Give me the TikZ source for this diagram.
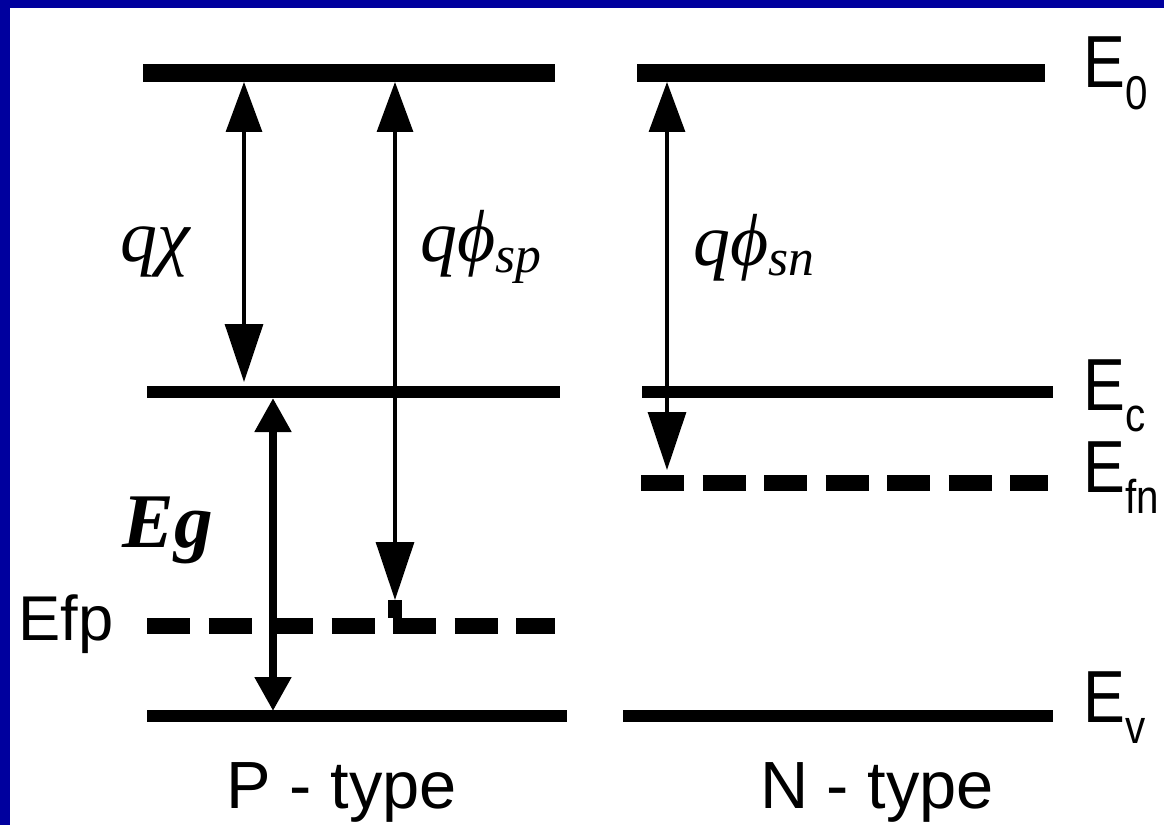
\documentclass[tikz,border=0pt]{standalone}
\usepackage{fontspec}
\setmainfont{Liberation Serif}
\newfontfamily\lvlsans{Liberation Sans}
\newfontfamily\lvlnarrow[FakeStretch=0.85]{Liberation Sans}
\usetikzlibrary{arrows.meta}
\definecolor{slideblue}{RGB}{0,0,158}
\newcommand{\lvlname}[1]{E\raisebox{-6pt}{\fontsize{13.5}{14}\selectfont #1}}

\begin{document}
\begin{tikzpicture}
  \tikzset{toplvl/.style={line width=5.3pt},
    bandlvl/.style={line width=3.4pt},
    fermilvl/.style={line width=4.6pt,dash pattern=on 4.3mm off 1.85mm},
    thinarr/.style={line width=0.9pt,{Triangle[length=5mm,width=3.6mm]}-{Triangle[length=5.8mm,width=3.8mm]}},
    gaparr/.style={line width=2.3pt,{Triangle[length=3.4mm,width=3.5mm]}-{Triangle[length=3.4mm,width=3.5mm]}},
    lbl/.style={font=\lvlnarrow\fontsize{21}{25}\selectfont,inner sep=0pt,anchor=base west},
    sym/.style={font=\itshape\fontsize{21}{25}\selectfont,inner sep=0pt,anchor=base west}}
  \useasboundingbox (0,0) rectangle (11.64,8.25);
  \fill[slideblue] (0,0) rectangle (11.64,8.25);
  \fill[white] (0.10,0) rectangle (11.64,8.17);
  % energy levels, P side and N side
  \draw[toplvl] (1.43,7.52) -- (5.55,7.52);
  \draw[toplvl] (6.37,7.52) -- (10.45,7.52);
  \draw[bandlvl] (1.47,4.33) -- (5.60,4.33);
  \draw[bandlvl] (6.42,4.33) -- (10.53,4.33);
  \draw[fermilvl] (6.41,3.42) -- (10.48,3.42);
  \draw[fermilvl] (1.47,1.99) -- (5.55,1.99);
  \draw[bandlvl] (1.47,1.09) -- (5.67,1.09);
  \draw[bandlvl] (6.23,1.09) -- (10.53,1.09);
  % arrow ends
  \coordinate (chiT) at (2.44,7.43);
  \coordinate (chiB) at (2.44,4.43);
  \coordinate (spT) at (3.95,7.43);
  \coordinate (spB) at (3.95,2.25);
  \coordinate (spF) at (3.95,2.07);
  \coordinate (snT) at (6.67,7.43);
  \coordinate (snB) at (6.67,3.55);
  \coordinate (egT) at (2.73,4.27);
  \coordinate (egB) at (2.73,1.14);
  \draw[thinarr] (chiT) -- (chiB);
  \draw[thinarr] (spT) -- (spB);
  \draw[line width=4.2pt] (spB) -- (spF);
  \draw[thinarr] (snT) -- (snB);
  \draw[gaparr] (egT) -- (egB);
  % labels
  \node[sym] (chi) at (1.20,5.63) {qχ};
  \node[sym] (phisp) at (4.20,5.63) {qϕ\textsubscript{sp}};
  \node[sym] (phisn) at (6.93,5.60) {qϕ\textsubscript{sn}};
  \node[sym,font=\bfseries\itshape\fontsize{22}{26}\selectfont] (eg) at (1.22,2.78) {Eg};
  \node[lbl,anchor=base east,font=\lvlsans\fontsize{18}{22}\selectfont] (efp) at (1.14,1.85) {Efp};
  \node[lbl] (e0) at (10.83,7.37) {\lvlname{0}};
  \node[lbl] (ec) at (10.83,4.15) {\lvlname{c}};
  \node[lbl] (efn) at (10.83,3.33) {\lvlname{fn}};
  \node[lbl] (ev) at (10.83,1.03) {\lvlname{v}};
  \node[lbl,anchor=base,font=\lvlsans\fontsize{19}{23}\selectfont] (ptype) at (3.42,0.17) {P - type};
  \node[lbl,anchor=base,font=\lvlsans\fontsize{19}{23}\selectfont] (ntype) at (8.77,0.17) {N - type};
\end{tikzpicture}
\end{document}
